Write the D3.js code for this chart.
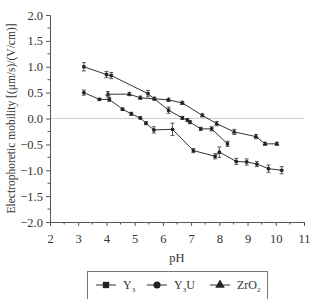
<!DOCTYPE html>
<html>
<head>
<meta charset="utf-8">
<script src="https://cdn.jsdelivr.net/npm/d3@7"></script>
<style>
  body { margin: 0; background: #fff; }
  svg { display: block; font-family: "Liberation Serif", "DejaVu Serif", serif; }
</style>
</head>
<body>
<div id="wrapper"></div>
<script>
// data
const y3PH  = [3.2, 4.0, 4.17, 5.47, 6.2, 6.69, 6.87, 6.96, 7.34, 7.73, 8.29];
const y3Val = [1.0, 0.85, 0.83, 0.48, 0.16, 0.01, -0.03, -0.07, -0.20, -0.20, -0.49];
const y3Err = [0.08, 0.06, 0.06, 0.06, 0.06, 0.03, 0.03, 0.03, 0.03, 0.04, 0.05];

const y3uPH  = [3.2, 3.75, 4.1, 4.57, 4.88, 5.2, 5.4, 5.68, 6.34, 7.08, 7.85, 8.0, 8.6, 8.97, 9.33, 9.74, 10.21];
const y3uVal = [0.5, 0.37, 0.37, 0.18, 0.09, 0.01, -0.09, -0.22, -0.21, -0.62, -0.73, -0.65, -0.83, -0.84, -0.88, -0.97, -1.0];
const y3uErr = [0.05, 0.02, 0.04, 0.02, 0.03, 0.02, 0.03, 0.06, 0.12, 0.04, 0.05, 0.1, 0.06, 0.06, 0.05, 0.07, 0.07];

const zrPH  = [4.05, 4.81, 5.2, 5.7, 6.2, 6.69, 7.4, 7.91, 8.53, 9.3, 9.62, 10.04];
const zrVal = [0.47, 0.47, 0.40, 0.38, 0.36, 0.30, 0.06, -0.10, -0.26, -0.35, -0.49, -0.49];
const zrErr = [0.05, 0.03, 0.03, 0.03, 0.03, 0.03, 0.03, 0.04, 0.05, 0.04, 0.03, 0.03];

const xTicks = [2, 3, 4, 5, 6, 7, 8, 9, 10, 11];
const yTicks = [-2, -1.5, -1, -0.5, 0, 0.5, 1, 1.5, 2];

function zip(ph, val, err) {
    return ph.map((p, i) => ({ph: p, v: val[i], e: err[i]}));
}
const series = [
    {name: "Y3", sym: d3.symbolSquare, data: zip(y3PH, y3Val, y3Err)},
    {name: "Y3U", sym: d3.symbolCircle, data: zip(y3uPH, y3uVal, y3uErr)},
    {name: "ZrO2", sym: d3.symbolTriangle, data: zip(zrPH, zrVal, zrErr)}
];

const dimension = {width: 310, height: 299};

const svg = d3.select("#wrapper").append("svg")
    .attr("width", dimension.width)
    .attr("height", dimension.height);

const xScaler = d3.scaleLinear().domain([2, 11]).range([50, 304]);
const yScaler = d3.scaleLinear().domain([-2, 2]).range([222, 15]);

// zero line
svg.append("line")
    .attr("x1", xScaler(2)).attr("x2", xScaler(11))
    .attr("y1", yScaler(0)).attr("y2", yScaler(0))
    .attr("stroke", "#d0d0d0").attr("stroke-width", 1);

// minor ticks
const xMinor = d3.range(2.5, 11, 1);
const yMinor = d3.range(-1.75, 2, 0.5);

const xAxis = svg.append("g")
    .attr("transform", `translate(0,${yScaler(-2)})`)
    .call(d3.axisBottom(xScaler).tickValues(xTicks).tickFormat(d3.format("d")).tickSize(4).tickPadding(8));
xAxis.selectAll(".minor").data(xMinor).enter().append("line")
    .attr("x1", d => xScaler(d)).attr("x2", d => xScaler(d))
    .attr("y1", 0).attr("y2", 2.5).attr("stroke", "#555");

const yAxis = svg.append("g")
    .attr("transform", `translate(${xScaler(2)},0)`)
    .call(d3.axisLeft(yScaler).tickValues(yTicks).tickFormat(d => d3.format(".1f")(d).replace("-", "\u2212")).tickSize(4).tickPadding(3));
yAxis.selectAll(".minor").data(yMinor).enter().append("line")
    .attr("x1", 0).attr("x2", -2.5)
    .attr("y1", d => yScaler(d)).attr("y2", d => yScaler(d)).attr("stroke", "#555");

svg.selectAll(".domain").attr("stroke", "#555");
svg.selectAll(".tick line").attr("stroke", "#555");
svg.selectAll(".tick text")
    .attr("font-family", "Liberation Serif")
    .attr("font-size", "12.5px")
    .attr("fill", "#333");

// axis titles
svg.append("text")
    .attr("x", xScaler(6.5)).attr("y", 262)
    .attr("text-anchor", "middle")
    .attr("font-family", "Liberation Serif")
    .attr("font-size", "12.5px").attr("fill", "#333")
    .text("pH");

svg.append("text")
    .attr("transform", `translate(15,${yScaler(0)}) rotate(-90)`)
    .attr("text-anchor", "middle")
    .attr("font-family", "Liberation Serif")
    .attr("font-size", "11.5px").attr("fill", "#333")
    .text("Electrophoretic mobility [(\u03bcm/s)/(V/cm)]");

// series
const lineGen = d3.line().x(d => xScaler(d.ph)).y(d => yScaler(d.v));

series.forEach(s => {
    const g = svg.append("g");
    g.append("path")
        .attr("d", lineGen(s.data))
        .attr("fill", "none")
        .attr("stroke", "#333")
        .attr("stroke-width", 1);

    const eb = g.selectAll(".eb").data(s.data).enter().append("g");
    eb.append("line")
        .attr("x1", d => xScaler(d.ph)).attr("x2", d => xScaler(d.ph))
        .attr("y1", d => yScaler(d.v + d.e)).attr("y2", d => yScaler(d.v - d.e))
        .attr("stroke", "#333").attr("stroke-width", 0.8);
    [1, -1].forEach(sg => {
        eb.append("line")
            .attr("x1", d => xScaler(d.ph) - 2).attr("x2", d => xScaler(d.ph) + 2)
            .attr("y1", d => yScaler(d.v + sg * d.e)).attr("y2", d => yScaler(d.v + sg * d.e))
            .attr("stroke", "#333").attr("stroke-width", 0.8);
    });

    g.selectAll(".pt").data(s.data).enter().append("path")
        .attr("d", d3.symbol().type(s.sym).size(11))
        .attr("transform", d => `translate(${xScaler(d.ph)},${yScaler(d.v)})`)
        .attr("fill", "#222");
});

// legend
const legend = svg.append("g");
legend.append("rect")
    .attr("x", 87.5).attr("y", 271.5)
    .attr("width", 180).attr("height", 40)
    .attr("fill", "none").attr("stroke", "#777").attr("stroke-width", 1);

const legendX = [96, 147, 210];
const labels = [["Y", "3", ""], ["Y", "3", "U"], ["ZrO", "2", ""]];
series.forEach((s, i) => {
    const lg = legend.append("g").attr("transform", `translate(${legendX[i]},285)`);
    lg.append("line").attr("x1", 0).attr("x2", 20).attr("y1", 0).attr("y2", 0)
        .attr("stroke", "#333").attr("stroke-width", 1);
    lg.append("path")
        .attr("d", d3.symbol().type(s.sym).size(40))
        .attr("transform", "translate(10,0)")
        .attr("fill", "#222");
    const t = lg.append("text").attr("x", 27).attr("y", 4)
        .attr("font-family", "Liberation Serif")
        .attr("font-size", "12px").attr("fill", "#333");
    t.append("tspan").text(labels[i][0]);
    t.append("tspan").attr("font-size", "7px").attr("dy", 3).text(labels[i][1]);
    if (labels[i][2]) t.append("tspan").attr("dy", -3).text(labels[i][2]);
});
</script>
</body>
</html>
